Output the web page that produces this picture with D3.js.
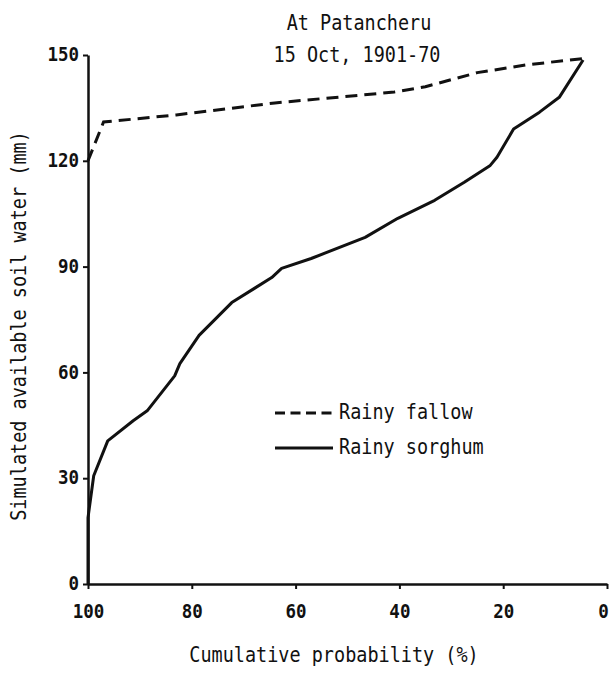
<!DOCTYPE html>
<html><head><meta charset="utf-8">
<script src="https://cdn.jsdelivr.net/npm/d3@7"></script>
<style>body{margin:0;background:#fff}</style>
</head><body><svg id="c" width="610" height="673"></svg>
<script>
const xTicks=[100,80,60,40,20,0];
const yTicks=[0,30,60,90,120,150];
const fallowX=[100,97,83,64,41,35,25,15.5,4.6];
const fallowY=[120,131,133,136.4,139.5,141,145,147.2,149];
const sorghumX=[100,100,98.9,96.2,91.3,88.6,83.3,82.3,78.6,72.3,64.6,62.7,57,46.6,40.3,33.2,27.5,22.5,21.2,18,13,9.2,4.6];
const sorghumY=[0,18.8,30.7,40.6,46.3,49.1,59,62.5,70.5,79.8,86.9,89.5,92.3,98.3,103.7,108.8,113.9,118.7,121,129,133.8,138,148.6];
const seriesNames=["Rainy fallow","Rainy sorghum"];
const titleLines=["At Patancheru","15 Oct, 1901-70"];
const xTitle="Cumulative probability (%)";
const yTitle="Simulated available soil water (mm)";

const S=1.15;
const FONT="'DejaVu Sans Mono', 'Liberation Mono', monospace";
const svg=d3.select("#c");
const x=d3.scaleLinear().domain([100,0]).range([88,607]);
const y=d3.scaleLinear().domain([0,150]).range([584,55]);

function txt(px,py,s,size,anchor,rot){
  return svg.append("text")
    .attr("transform",`translate(${px},${py})`+(rot?` rotate(${rot})`:"")+` scale(1,${S})`)
    .attr("text-anchor",anchor||"middle")
    .attr("font-family",FONT).attr("font-size",size).attr("fill","#111")
    .text(s);
}

// axes
const xAxis=d3.axisBottom(x).tickValues(xTicks).tickSize(5).tickSizeOuter(0).tickFormat(d3.format("d"));
const gx=svg.append("g").attr("transform",`translate(0,${y(0)})`).call(xAxis);
gx.select(".domain").attr("stroke","#111").attr("stroke-width",2.5);
gx.selectAll(".tick line").attr("stroke","#111").attr("stroke-width",2);
gx.selectAll(".tick text").attr("font-family",FONT).attr("font-size",17.5).attr("font-weight","bold").attr("fill","#111")
  .attr("dy",0).attr("y",34/S).attr("transform",`scale(1,${S})`)
  .attr("dx",d=>d===0?-4:0);

const yAxis=d3.axisLeft(y).tickValues(yTicks).tickSize(5).tickSizeOuter(0).tickFormat(d3.format("d"));
const gy=svg.append("g").attr("transform",`translate(${x(100)},0)`).call(yAxis);
gy.select(".domain").attr("stroke","#111").attr("stroke-width",2.5);
gy.selectAll(".tick line").attr("stroke","#111").attr("stroke-width",2);
gy.selectAll(".tick text").attr("font-family",FONT).attr("font-size",17.5).attr("font-weight","bold").attr("fill","#111")
  .attr("x",-9).attr("dy","0.28em").attr("transform",`scale(1,${S})`)
  .attr("y",0);

// lines
const line=d3.line().x(d=>x(d[0])).y(d=>y(d[1]));
const fallow=fallowX.map((v,i)=>[v,fallowY[i]]);
const sorghum=sorghumX.map((v,i)=>[v,sorghumY[i]]);
svg.append("path").datum(fallow).attr("d",line).attr("fill","none")
  .attr("stroke","#111").attr("stroke-width",3).attr("stroke-dasharray","12,7");
svg.append("path").datum(sorghum).attr("d",line).attr("fill","none")
  .attr("stroke","#111").attr("stroke-width",3).attr("stroke-linejoin","round");

// titles
txt(359,30,titleLines[0],18.5);
txt(357,62,titleLines[1],18.5);
txt(334,662,xTitle,18.5);
txt(26,326,yTitle,18.5,"middle",-90);

// legend
svg.append("line").attr("x1",275).attr("x2",333).attr("y1",413).attr("y2",413)
  .attr("stroke","#111").attr("stroke-width",3).attr("stroke-dasharray","10,5.5");
svg.append("line").attr("x1",275).attr("x2",333).attr("y1",448).attr("y2",448)
  .attr("stroke","#111").attr("stroke-width",3);
txt(339,419,seriesNames[0],18.5,"start");
txt(339,454,seriesNames[1],18.5,"start");
</script></body></html>
